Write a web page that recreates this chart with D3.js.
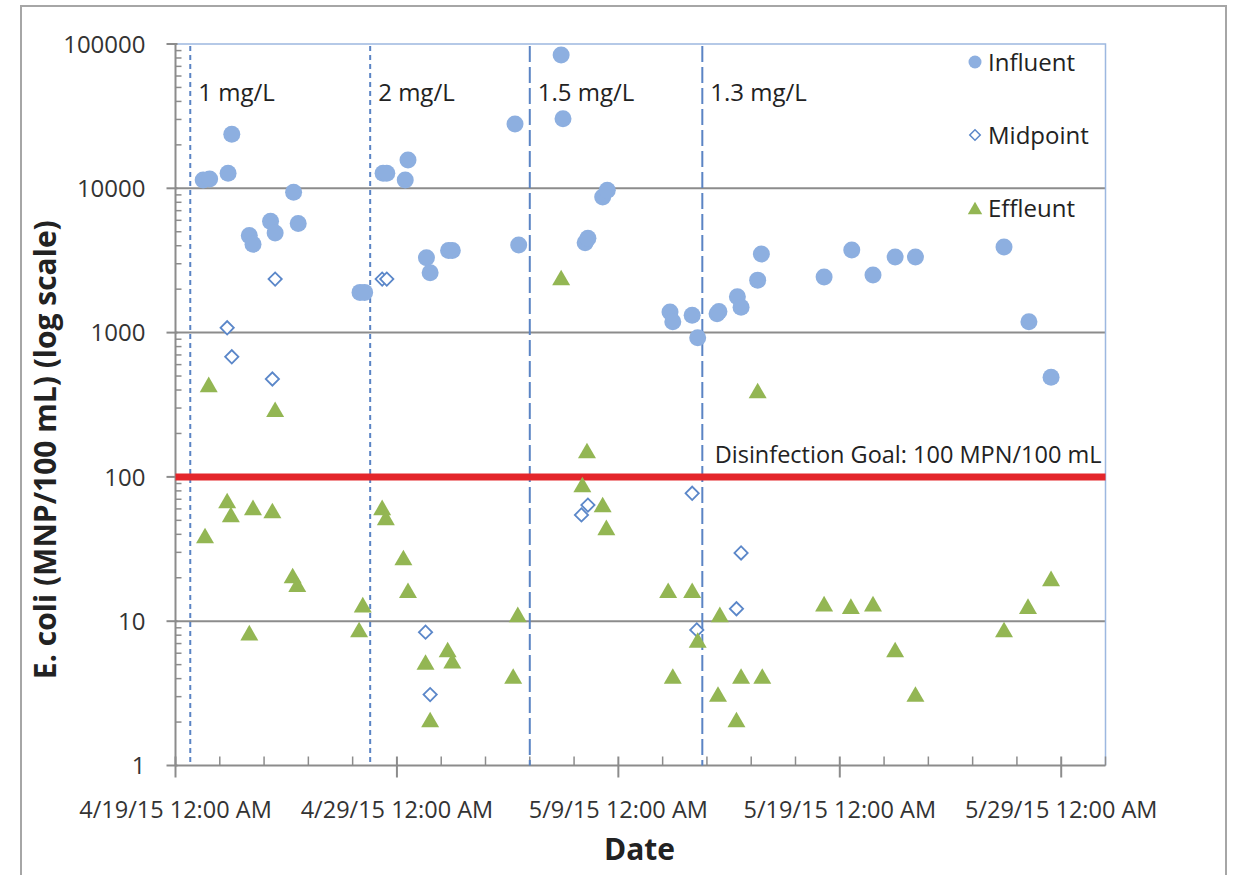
<!DOCTYPE html>
<html lang="en">
<head>
    <meta charset="UTF-8">
    <title>E. coli log scale</title>
    <style>
        body { margin: 0; background: #fff; }
        #chart { width: 1235px; height: 875px; }
        text { font-family: "Open Sans", sans-serif; }
    </style>
</head>
<body>
<div id="chart"></div>
<script src="https://d3js.org/d3.v7.min.js"></script>
<script>
    // sample dates and E. coli counts (MPN/100 mL)
    const influentDates = [
        "2015-04-20T06:00", "2015-04-20T13:00", "2015-04-21T09:00", "2015-04-21T13:00",
        "2015-04-22T08:00", "2015-04-22T12:00", "2015-04-23T07:00", "2015-04-23T12:00",
        "2015-04-24T08:00", "2015-04-24T13:00", "2015-04-27T08:00", "2015-04-27T13:00",
        "2015-04-28T09:00", "2015-04-28T13:00", "2015-04-29T09:00", "2015-04-29T12:00",
        "2015-04-30T08:00", "2015-04-30T12:00", "2015-05-01T08:00", "2015-05-01T12:00",
        "2015-05-04T08:00", "2015-05-04T12:00", "2015-05-06T10:00", "2015-05-06T12:00",
        "2015-05-07T12:00", "2015-05-07T15:00", "2015-05-08T07:00", "2015-05-08T12:00",
        "2015-05-11T08:00", "2015-05-11T11:00", "2015-05-12T08:00", "2015-05-12T14:00",
        "2015-05-13T11:00", "2015-05-13T13:00", "2015-05-14T09:00", "2015-05-14T13:00",
        "2015-05-15T07:00", "2015-05-15T11:00", "2015-05-18T07:00", "2015-05-19T13:00",
        "2015-05-20T12:00", "2015-05-21T12:00", "2015-05-22T10:00", "2015-05-26T10:00",
        "2015-05-27T13:00", "2015-05-28T13:00"
    ];
    const influentValues = [
        11400, 11600, 12700, 23700,
        4700, 4100, 5900, 4900,
        9400, 5700, 1900, 1900,
        12700, 12700, 11400, 15700,
        3300, 2600, 3700, 3700,
        27900, 4050, 84000, 30300,
        4200, 4500, 8700, 9700,
        1390, 1190, 1320, 920,
        1350, 1400, 1770, 1500,
        2310, 3500, 2430, 3730,
        2510, 3340, 3340, 3920,
        1190, 490
    ];

    const midpointDates = [
        "2015-04-21T08:00", "2015-04-21T13:00", "2015-04-23T09:00", "2015-04-23T12:00",
        "2015-04-28T08:00", "2015-04-28T13:00", "2015-04-30T07:00", "2015-04-30T12:00",
        "2015-05-07T08:00", "2015-05-07T15:00", "2015-05-12T08:00", "2015-05-12T13:00",
        "2015-05-14T08:00", "2015-05-14T13:00"
    ];
    const midpointValues = [
        1080, 680, 477, 2350,
        2350, 2350, 8.4, 3.1,
        54.5, 63.8, 77, 8.7,
        12.2, 29.7
    ];

    const effluentDates = [
        "2015-04-20T08:00", "2015-04-20T12:00", "2015-04-21T08:00", "2015-04-21T12:00",
        "2015-04-22T08:00", "2015-04-22T12:00", "2015-04-23T09:00", "2015-04-23T12:00",
        "2015-04-24T07:00", "2015-04-24T12:00", "2015-04-27T07:00", "2015-04-27T11:00",
        "2015-04-28T08:00", "2015-04-28T12:00", "2015-04-29T07:00", "2015-04-29T12:00",
        "2015-04-30T07:00", "2015-04-30T12:00", "2015-05-01T07:00", "2015-05-01T12:00",
        "2015-05-04T06:00", "2015-05-04T11:00", "2015-05-06T10:00", "2015-05-07T09:00",
        "2015-05-07T14:00", "2015-05-08T07:00", "2015-05-08T11:00", "2015-05-11T06:00",
        "2015-05-11T11:00", "2015-05-12T08:00", "2015-05-12T14:00", "2015-05-13T12:00",
        "2015-05-13T14:00", "2015-05-14T08:00", "2015-05-14T13:00", "2015-05-15T07:00",
        "2015-05-15T12:00", "2015-05-18T07:00", "2015-05-19T12:00", "2015-05-20T12:00",
        "2015-05-21T12:00", "2015-05-22T10:00", "2015-05-26T10:00", "2015-05-27T12:00",
        "2015-05-28T13:00"
    ];
    const effluentValues = [
        37.7, 420, 65.9, 52.7,
        8.0, 59, 56.2, 282,
        19.9, 17.3, 8.4, 12.5,
        59, 50.3, 26.5, 15.7,
        5.0, 2.0, 6.1, 5.1,
        4.0, 10.7, 2310, 85,
        146, 61.8, 42.9, 15.7,
        4.0, 15.7, 7.1, 3.0,
        10.7, 2.0, 4.0, 381,
        4.0, 12.7, 12.2, 12.7,
        6.1, 3.0, 8.4, 12.2,
        19.0
    ];

    // chlorine dose changes
    const doseDates = ["2015-04-19T16:00", "2015-04-27T19:00", "2015-05-05T00:00", "2015-05-12T19:00"];
    const doseLabels = ["1 mg/L", "2 mg/L", "1.5 mg/L", "1.3 mg/L"];

    const goalValue = 100;
    const goalLabel = "Disinfection Goal: 100 MPN/100 mL";
    const yTickValues = [1, 10, 100, 1000, 10000, 100000];
    const xDomain = ["2015-04-19T00:00", "2015-05-31T00:00"];

    const parse = d3.timeParse("%Y-%m-%dT%H:%M");

    const svg = d3.select("#chart").append("svg")
        .attr("width", 1235)
        .attr("height", 875);

    const margin = {top: 44, right: 129.5, bottom: 109.5, left: 175.5},
        width = 1235 - margin.left - margin.right,
        height = 875 - margin.top - margin.bottom;

    // outer chart frame
    svg.append("rect")
        .attr("x", 21).attr("y", 6)
        .attr("width", 1205).attr("height", 900)
        .attr("fill", "none")
        .attr("stroke", "#a6a6a6")
        .attr("stroke-width", 2);

    const x = d3.scaleTime()
        .domain(xDomain.map(parse))
        .range([margin.left, margin.left + width]);
    const y = d3.scaleLog()
        .domain([1, 100000])
        .range([margin.top + height, margin.top]);

    const x0 = margin.left, x1 = margin.left + width;
    const y0 = margin.top + height, y1 = margin.top;

    // gridlines
    svg.append("g").selectAll("line")
        .data(yTickValues.filter(v => v > 1 && v < 100000))
        .enter().append("line")
        .attr("x1", x0).attr("x2", x1)
        .attr("y1", d => y(d)).attr("y2", d => y(d))
        .attr("stroke", "#8c8c8c")
        .attr("stroke-width", 2);

    // plot top/right border
    svg.append("path")
        .attr("d", `M${x0},${y1}H${x1}V${y0}`)
        .attr("fill", "none")
        .attr("stroke", "#9db8e0")
        .attr("stroke-width", 1.5);

    // y axis: major ticks cross outward, minor ticks inside
    const minorY = [];
    for (let e = 0; e < 5; e++) for (let m = 2; m <= 9; m++) minorY.push(m * Math.pow(10, e));

    const yAxis = svg.append("g");
    yAxis.append("line")
        .attr("x1", x0).attr("x2", x0).attr("y1", y0).attr("y2", y1)
        .attr("stroke", "#8c8c8c").attr("stroke-width", 2);
    yAxis.selectAll(".minor").data(minorY).enter().append("line")
        .attr("x1", x0).attr("x2", x0 + 6)
        .attr("y1", d => y(d)).attr("y2", d => y(d))
        .attr("stroke", "#8c8c8c").attr("stroke-width", 1.5);
    yAxis.selectAll(".major").data(yTickValues).enter().append("line")
        .attr("x1", x0 - 9).attr("x2", x0 + 2)
        .attr("y1", d => y(d)).attr("y2", d => y(d))
        .attr("stroke", "#8c8c8c").attr("stroke-width", 2);
    yAxis.selectAll("text").data(yTickValues).enter().append("text")
        .attr("x", x0 - 30)
        .attr("y", d => y(d))
        .attr("dy", "0.36em")
        .attr("text-anchor", "end")
        .style("font-size", "24px")
        .style("fill", "#333")
        .text(d => d);

    // x axis: majors every 10 days, minors every 2
    const minorX = d3.range(0, 43, 2).map(i => d3.timeDay.offset(x.domain()[0], i))
        .filter(d => d3.timeDay.count(x.domain()[0], d) % 10 !== 0);
    const majorXTicks = d3.range(0, 41, 10).map(i => d3.timeDay.offset(x.domain()[0], i));

    const xAxis = svg.append("g");
    xAxis.append("line")
        .attr("x1", x0).attr("x2", x1).attr("y1", y0).attr("y2", y0)
        .attr("stroke", "#8c8c8c").attr("stroke-width", 2);
    xAxis.selectAll(".minor").data(minorX).enter().append("line")
        .attr("x1", d => x(d)).attr("x2", d => x(d))
        .attr("y1", y0 - 9).attr("y2", y0)
        .attr("stroke", "#8c8c8c").attr("stroke-width", 1.5);
    xAxis.selectAll(".major").data(majorXTicks).enter().append("line")
        .attr("x1", d => x(d)).attr("x2", d => x(d))
        .attr("y1", y0 - 9).attr("y2", y0 + 12)
        .attr("stroke", "#8c8c8c").attr("stroke-width", 2);
    const fmt = d3.timeFormat("%-m/%-d/%y %-I:%M %p");
    xAxis.selectAll("text").data(majorXTicks).enter().append("text")
        .attr("x", d => x(d))
        .attr("y", y0 + 52)
        .attr("text-anchor", "middle")
        .style("font-size", "23.5px")
        .style("fill", "#333")
        .text(d => fmt(d));

    // axis titles
    svg.append("text")
        .attr("transform", `translate(56,${(y0 + y1) / 2 + 45}) rotate(-90)`)
        .attr("text-anchor", "middle")
        .style("font-size", "30px")
        .style("font-weight", "bold")
        .style("fill", "#222")
        .text("E. coli (MNP/100 mL) (log scale)");

    svg.append("text")
        .attr("x", (x0 + x1) / 2 - 1)
        .attr("y", 860)
        .attr("text-anchor", "middle")
        .style("font-size", "30px")
        .style("font-weight", "bold")
        .style("fill", "#222")
        .text("Date");

    // dose change lines
    const doses = doseDates.map((d, i) => ({date: parse(d), label: doseLabels[i], dash: i < 2 ? "5,4" : "16,5"}));
    svg.append("g").selectAll("line").data(doses).enter().append("line")
        .attr("x1", d => x(d.date)).attr("x2", d => x(d.date))
        .attr("y1", y1 + 2).attr("y2", y0)
        .attr("stroke", "#5b84c4")
        .attr("stroke-width", 2)
        .attr("stroke-dasharray", d => d.dash);
    svg.append("g").selectAll("text").data(doses).enter().append("text")
        .attr("x", d => x(d.date) + 8)
        .attr("y", y(40000))
        .style("font-size", "24px")
        .style("fill", "#222")
        .text(d => d.label);

    // disinfection goal
    svg.append("line")
        .attr("x1", x0).attr("x2", x1)
        .attr("y1", y(goalValue)).attr("y2", y(goalValue))
        .attr("stroke", "#e4262b")
        .attr("stroke-width", 7);
    svg.append("text")
        .attr("x", x1 - 4)
        .attr("y", y(goalValue) - 14)
        .attr("text-anchor", "end")
        .style("font-size", "23.5px")
        .style("fill", "#222")
        .text(goalLabel);

    const influent = influentDates.map((d, i) => ({date: parse(d), value: influentValues[i]}));
    const midpoint = midpointDates.map((d, i) => ({date: parse(d), value: midpointValues[i]}));
    const effluent = effluentDates.map((d, i) => ({date: parse(d), value: effluentValues[i]}));

    const blue = "#8dafe0", green = "#93b653", diamondStroke = "#5b87c9";

    svg.append("g").selectAll("circle").data(influent).enter().append("circle")
        .attr("cx", d => x(d.date))
        .attr("cy", d => y(d.value))
        .attr("r", 8.5)
        .attr("fill", blue);

    const diamond = d3.symbol().type(d3.symbolSquare).size(88);
    svg.append("g").selectAll("path").data(midpoint).enter().append("path")
        .attr("d", diamond)
        .attr("transform", d => `translate(${x(d.date)},${y(d.value)}) rotate(45)`)
        .attr("fill", "#fff")
        .attr("stroke", diamondStroke)
        .attr("stroke-width", 1.8);

    const tri = d3.symbol().type(d3.symbolTriangle).size(140);
    svg.append("g").selectAll("path").data(effluent).enter().append("path")
        .attr("d", tri)
        .attr("transform", d => `translate(${x(d.date)},${y(d.value)})`)
        .attr("fill", green);

    // legend
    const legend = svg.append("g").attr("transform", "translate(975,0)");
    legend.append("circle").attr("cx", 0).attr("cy", 62).attr("r", 6.5).attr("fill", blue);
    legend.append("path").attr("d", d3.symbol().type(d3.symbolSquare).size(55))
        .attr("transform", "translate(0,135) rotate(45)")
        .attr("fill", "#fff").attr("stroke", diamondStroke).attr("stroke-width", 1.5);
    legend.append("path").attr("d", d3.symbol().type(d3.symbolTriangle).size(90))
        .attr("transform", "translate(0,210)")
        .attr("fill", green);
    [["Influent", 71], ["Midpoint", 144], ["Effleunt", 217]].forEach(([t, yy]) => {
        legend.append("text")
            .attr("x", 13).attr("y", yy)
            .style("font-size", "24px")
            .style("fill", "#222")
            .text(t);
    });
</script>
</body>
</html>
